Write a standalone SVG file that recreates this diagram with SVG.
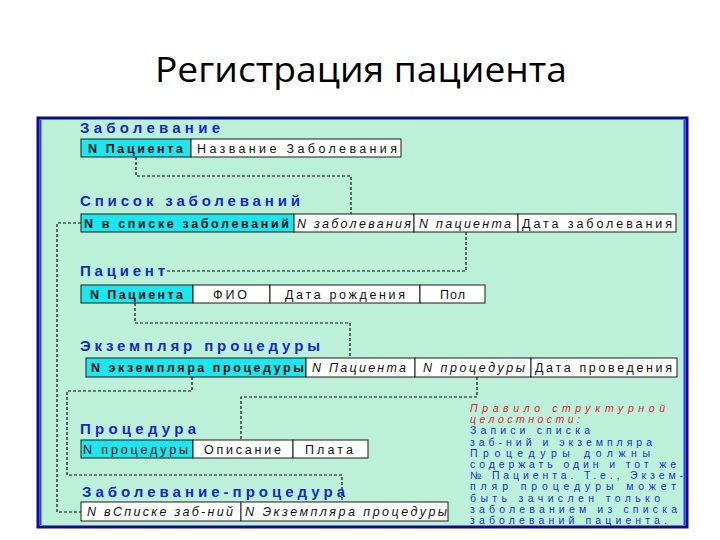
<svg xmlns="http://www.w3.org/2000/svg" width="720" height="540" viewBox="0 0 720 540">
<style>
.title{font-family:"Open Sans","Liberation Sans",sans-serif;font-size:35px;fill:#000}
.lbl{font-family:"Liberation Sans",Arial,sans-serif;font-weight:bold;font-size:15px;fill:#1428c8}
.cell{fill:#fff;stroke:#1a1a1a;stroke-width:1}
.key{fill:#1ee6ee;stroke:#1a1a1a;stroke-width:1}
.t{font-family:"Liberation Sans",Arial,sans-serif;font-size:12.5px;fill:#111}
.b{font-weight:bold}
.i{font-style:italic}
.conn path{fill:none;stroke:#111;stroke-width:1.2;stroke-dasharray:3 2}
.red{font-family:"Liberation Sans",Arial,sans-serif;font-size:10.5px;font-style:italic;fill:#e0203c}
.blue{font-family:"Liberation Sans",Arial,sans-serif;font-size:10.5px;fill:#1a30d0}
</style>
<rect x="0" y="0" width="720" height="540" fill="#fff"/>
<text class="title" x="155" y="82" textLength="412" lengthAdjust="spacingAndGlyphs">Регистрация пациента</text>

<g id="frame">
<rect x="38" y="118" width="649" height="409" fill="#bdf0d8" stroke="#0c0c8c" stroke-width="3"/>
<line x1="40.5" y1="120" x2="40.5" y2="525" stroke="#2a3cff" stroke-width="2"/>
<line x1="684.5" y1="120" x2="684.5" y2="525" stroke="#2a3cff" stroke-width="2"/>
</g>

<g class="conn" id="connectors">
<path d="M136,157 V176 H351 V214"/>
<path d="M81,223 H57 V512 H81"/>
<path d="M466,232 V271 H165"/>
<path d="M135,303 V323 H350 V358"/>
<path d="M192,377 V391 H67 V475 H342 V502"/>
<path d="M477,377 V397 H241 V440"/>
</g>

<g id="t-zabolevanie">
<text class="lbl" x="80" y="133" textLength="140" lengthAdjust="spacing">Заболевание</text>
<rect class="key" x="81" y="139" width="110" height="18"/>
<rect class="cell" x="191" y="139" width="210" height="18"/>
<text class="t b" x="88" y="152.5" textLength="95" lengthAdjust="spacing">N Пациента</text>
<text class="t" x="197" y="152.5" textLength="200" lengthAdjust="spacing">Название   Заболевания</text>
</g>

<g id="t-spisok">
<text class="lbl" x="80" y="206" textLength="220" lengthAdjust="spacing">Список заболеваний</text>
<rect class="key" x="81" y="214" width="213" height="18"/>
<rect class="cell" x="294" y="214" width="120" height="18"/>
<rect class="cell" x="414" y="214" width="104" height="18"/>
<rect class="cell" x="518" y="214" width="158" height="18"/>
<text class="t b" x="84" y="227.5" textLength="205" lengthAdjust="spacing">N в списке заболеваний</text>
<text class="t i" x="297" y="227.5" textLength="114" lengthAdjust="spacing">N заболевания</text>
<text class="t i" x="419" y="227.5" textLength="92" lengthAdjust="spacing">N пациента</text>
<text class="t" x="522" y="227.5" textLength="150" lengthAdjust="spacing">Дата заболевания</text>
</g>

<g id="t-pacient">
<text class="lbl" x="80" y="276" textLength="85" lengthAdjust="spacing">Пациент</text>
<rect class="key" x="81" y="285" width="112" height="18"/>
<rect class="cell" x="193" y="285" width="77" height="18"/>
<rect class="cell" x="270" y="285" width="150" height="18"/>
<rect class="cell" x="420" y="285" width="65" height="18"/>
<text class="t b" x="90" y="298.5" textLength="93" lengthAdjust="spacing">N Пациента</text>
<text class="t" x="213" y="298.5" textLength="34" lengthAdjust="spacing">ФИО</text>
<text class="t" x="285" y="298.5" textLength="120" lengthAdjust="spacing">Дата рождения</text>
<text class="t" x="440" y="298.5" textLength="25" lengthAdjust="spacing">Пол</text>
</g>

<g id="t-ekzemplyar">
<text class="lbl" x="80" y="351" textLength="240" lengthAdjust="spacing">Экземпляр процедуры</text>
<rect class="key" x="86" y="358" width="220" height="19"/>
<rect class="cell" x="306" y="358" width="109" height="19"/>
<rect class="cell" x="415" y="358" width="116" height="19"/>
<rect class="cell" x="531" y="358" width="146" height="19"/>
<text class="t b" x="91" y="372" textLength="213" lengthAdjust="spacing">N экземпляра процедуры</text>
<text class="t i" x="312" y="372" textLength="94" lengthAdjust="spacing">N Пациента</text>
<text class="t i" x="423" y="372" textLength="102" lengthAdjust="spacing">N процедуры</text>
<text class="t" x="535" y="372" textLength="137" lengthAdjust="spacing">Дата проведения</text>
</g>

<g id="t-procedura">
<text class="lbl" x="80" y="434" font-size="17" textLength="116" lengthAdjust="spacing">Процедура</text>
<rect class="key" x="81" y="440" width="112" height="18"/>
<rect class="cell" x="193" y="440" width="100" height="18"/>
<rect class="cell" x="293" y="440" width="75" height="18"/>
<text class="t" x="83" y="453.5" textLength="105" lengthAdjust="spacing">N процедуры</text>
<text class="t" x="204" y="453.5" textLength="77" lengthAdjust="spacing">Описание</text>
<text class="t" x="305" y="453.5" textLength="48" lengthAdjust="spacing">Плата</text>
</g>

<g id="t-zab-proc">
<text class="lbl" x="82" y="497" textLength="263" lengthAdjust="spacing">Заболевание-процедура</text>
<rect class="cell" x="81" y="502" width="160" height="19"/>
<rect class="cell" x="241" y="502" width="207" height="19"/>
<text class="t i" x="87" y="516" textLength="146" lengthAdjust="spacing">N вСписке заб-ний</text>
<text class="t i" x="245" y="516" textLength="202" lengthAdjust="spacing">N Экземпляра процедуры</text>
</g>

<g id="rule">
<text class="red" x="470" y="412" textLength="195" lengthAdjust="spacing">Правило структурной</text>
<text class="red" x="470" y="423.2" textLength="110" lengthAdjust="spacing">целостности:</text>
<text class="blue" x="470" y="434.4" textLength="120" lengthAdjust="spacing">Записи списка</text>
<text class="blue" x="470" y="445.6" textLength="182" lengthAdjust="spacing">заб-ний и экземпляра</text>
<text class="blue" x="470" y="456.8" textLength="180" lengthAdjust="spacing">Процедуры должны</text>
<text class="blue" x="470" y="468" textLength="206" lengthAdjust="spacing">содержать один и тот же</text>
<text class="blue" x="470" y="479.2" textLength="213" lengthAdjust="spacing">№ Пациента. Т.е., Экзем-</text>
<text class="blue" x="470" y="490.4" textLength="206" lengthAdjust="spacing">пляр процедуры может</text>
<text class="blue" x="470" y="501.6" textLength="190" lengthAdjust="spacing">быть зачислен только</text>
<text class="blue" x="470" y="512.8" textLength="207" lengthAdjust="spacing">заболеванием из списка</text>
<text class="blue" x="470" y="524" textLength="197" lengthAdjust="spacing">заболеваний пациента.</text>
</g>
</svg>
